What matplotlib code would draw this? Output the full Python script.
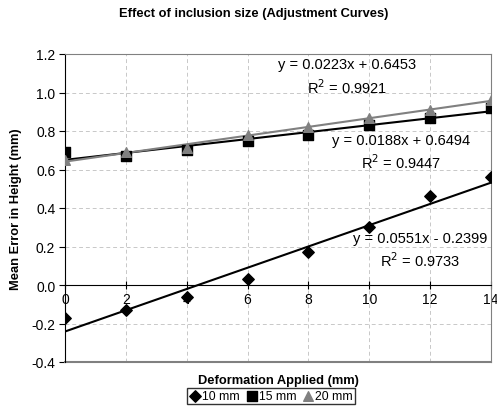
import numpy as np
import matplotlib.pyplot as plt

plt.rcParams['font.family'] = ['Liberation Sans', 'DejaVu Sans']

# Data
deformation = [0, 2, 4, 6, 8, 10, 12, 14]
err_10mm = [-0.17, -0.13, -0.06, 0.03, 0.17, 0.30, 0.46, 0.56]
err_15mm = [0.69, 0.67, 0.70, 0.75, 0.78, 0.83, 0.87, 0.92]
err_20mm = [0.65, 0.69, 0.71, 0.78, 0.82, 0.87, 0.91, 0.96]
labels = ['10 mm', '15 mm', '20 mm']
eq_text = ['y = 0.0551x - 0.2399\nR$^2$ = 0.9733',
           'y = 0.0188x + 0.6494\nR$^2$ = 0.9447',
           'y = 0.0223x + 0.6453\nR$^2$ = 0.9921']

fig = plt.figure(figsize=(4.97, 4.10), dpi=100)
ax = fig.add_axes([65/497, 1 - 363/410, 426/497, 308/410])

x = np.array(deformation)
series = [err_10mm, err_15mm, err_20mm]
markers = ['D', 's', '^']
colors = ['black', 'black', '#808080']
sizes = [34, 44, 48]

handles = []
for y, m, c, s, lab in zip(series, markers, colors, sizes, labels):
    h = ax.scatter(x, y, marker=m, color=c, s=s, zorder=3, label=lab)
    handles.append(h)
    # linear trendline
    k, b = np.polyfit(x, y, 1)
    xx = np.array([0, 14])
    ax.plot(xx, k * xx + b, color=c, lw=1.5, zorder=2)

# trendline equations
ax.text(11.67, 0.182, eq_text[0], ha='center', va='center', fontsize=10.5,
        linespacing=1.35, multialignment='center')
ax.text(11.04, 0.693, eq_text[1], ha='center', va='center', fontsize=10.5,
        linespacing=1.35, multialignment='center')
ax.text(9.27, 1.083, eq_text[2], ha='center', va='center', fontsize=10.5,
        linespacing=1.35, multialignment='center')

ax.set_xlim(0, 14)
ax.set_ylim(-0.4, 1.2)
ax.set_xticks(range(0, 15, 2))
yt = np.arange(-0.4, 1.21, 0.2)
ax.set_yticks(yt)
ax.set_yticklabels([f'{v:.1f}' for v in yt], fontsize=10)
ax.set_xticklabels([str(v) for v in range(0, 15, 2)], fontsize=10)
ax.grid(True, color='#c8c8c8', linestyle=(0, (4, 3)), lw=0.7)
ax.set_axisbelow(True)

ax.spines['bottom'].set_position(('data', 0))
ax.spines['bottom'].set_color('black')
ax.spines['left'].set_color('black')
ax.spines['top'].set_color('#808080')
ax.spines['right'].set_color('#808080')
ax.axhline(-0.4, color='#808080', lw=1.5, clip_on=False)
ax.tick_params(axis='x', direction='inout', length=6, pad=2)
ax.tick_params(axis='y', direction='out', length=4, pad=3)

fig.text(254/497, 1 - 14/410, 'Effect of inclusion size (Adjustment Curves)',
         ha='center', va='center', fontsize=9.3, fontweight='bold')
fig.text(16/497, 1 - 209/410, 'Mean Error in Height (mm)', rotation=90,
         ha='center', va='center', fontsize=9.3, fontweight='bold')
fig.text(278/497, 1 - 381/410, 'Deformation Applied (mm)', ha='center', va='center',
         fontsize=9.3, fontweight='bold')

fig.legend(handles=handles, loc='center', bbox_to_anchor=(271/497, 1 - 397/410),
           ncol=3, fontsize=8.8, frameon=True, fancybox=False, edgecolor='black',
           handletextpad=0.05, columnspacing=0.5, borderpad=0.2, handlelength=1,
           borderaxespad=0)

fig.savefig('out.png', dpi=100)
